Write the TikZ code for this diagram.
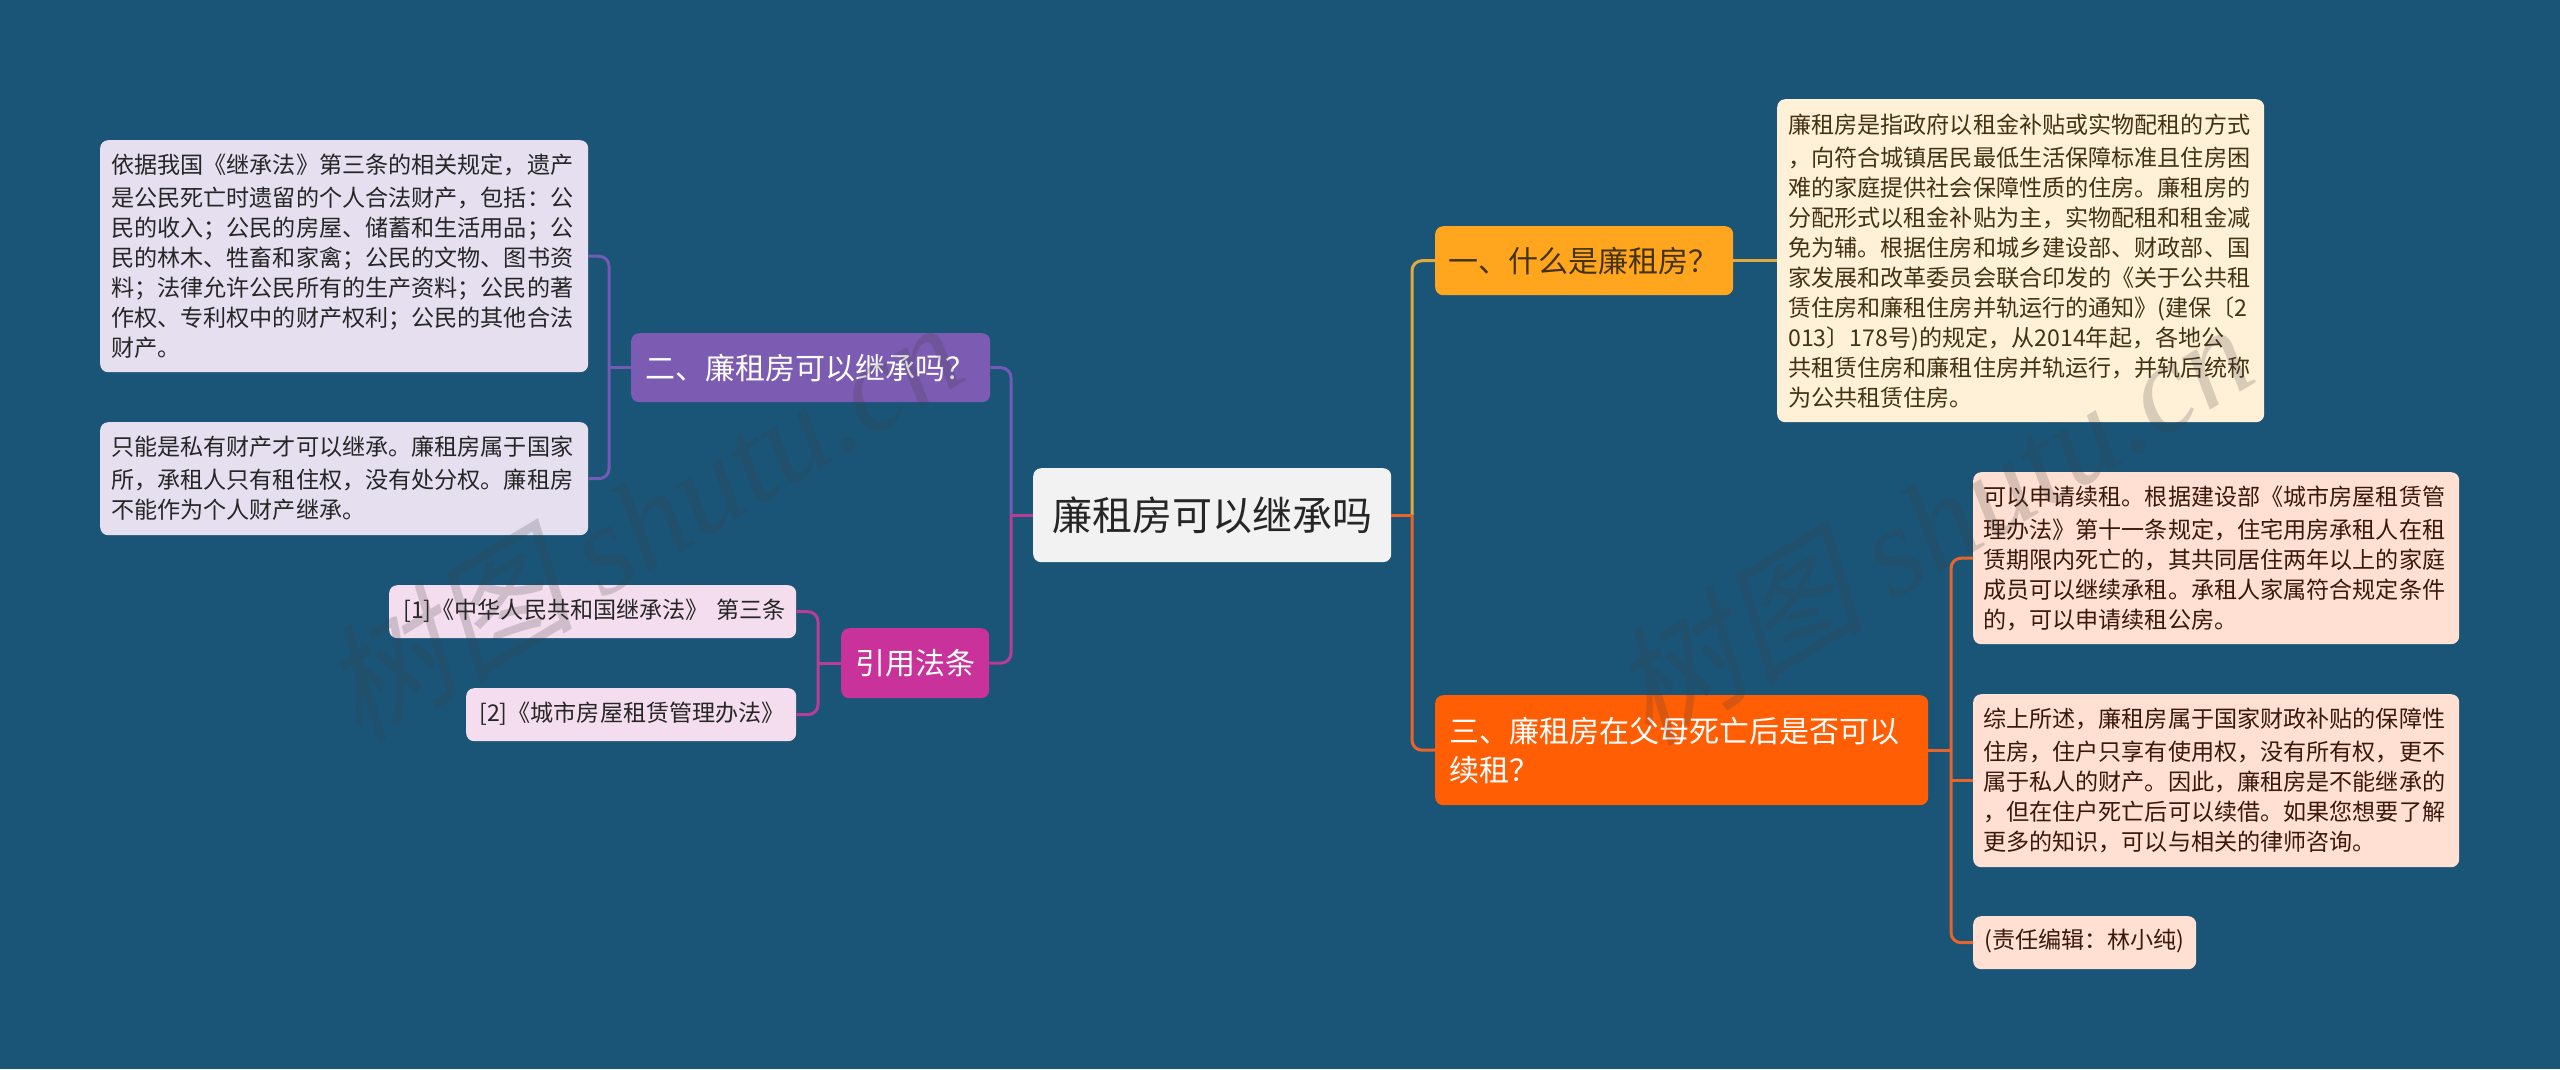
\documentclass[tikz,border=0pt]{standalone}
\usepackage{fontspec}
\setmainfont{Noto Sans CJK SC}
\newfontfamily\wmcjk[FakeSlant=0.25]{Noto Sans CJK SC}
\newfontfamily\wmlat{Liberation Serif}
\usetikzlibrary{calc}
\definecolor{bgc}{RGB}{26,85,120}
\definecolor{purp}{RGB}{124,91,178}
\definecolor{purpl}{RGB}{229,223,240}
\definecolor{magn}{RGB}{201,50,155}
\definecolor{magnl}{RGB}{244,221,238}
\definecolor{ambr}{RGB}{255,165,30}
\definecolor{ambrl}{RGB}{255,240,216}
\definecolor{ambrd}{RGB}{226,170,60}
\definecolor{orng}{RGB}{255,94,5}
\definecolor{orngl}{RGB}{255,224,210}
\definecolor{orngd}{RGB}{232,100,40}
\definecolor{purpd}{RGB}{115,90,180}
\definecolor{magnd}{RGB}{185,60,150}
\definecolor{cent}{RGB}{242,242,242}
\definecolor{wmgray}{RGB}{60,60,60}
\tikzset{
  x=1pt,y=-1pt,
  card/.style={rounded corners=8pt,anchor=north west,inner sep=0pt,align=left},
  leaf/.style={card,font=\fontsize{23.1pt}{30pt}\selectfont,execute at begin node={\vspace*{3pt}}},
  big/.style={card,font=\fontsize{30pt}{39pt}\selectfont},
  conn/.style={line width=3pt,rounded corners=10pt},
  wm/.style={rotate=31,text opacity=0.2,text=wmgray,inner sep=0pt,font=\fontsize{128pt}{130pt}\selectfont},
}
\newcommand{\wmtext}{{\wmcjk 树图}\ {\wmlat\itshape shutu.cn}}
\begin{document}
\begin{tikzpicture}
\useasboundingbox (0,0) rectangle (2560,1069);
\fill[bgc] (0,0) rectangle (2560,1069);
% spines
\coordinate (sL) at (1011,0);
\coordinate (sR) at (1412,0);
\coordinate (s2) at (609,0);
\coordinate (s3) at (818,0);
\coordinate (s4) at (1951,0);
% nodes
\node[card,font=\fontsize{40pt}{48pt}\selectfont,fill=cent,text=black!85,minimum width=358pt,minimum height=94pt,align=center] (root) at (1033,468) {廉租房可以继承吗};
\node[big,fill=purp,text=white,minimum width=359pt,minimum height=69pt,text width=331pt] (n2) at (631,333) {二、廉租房可以继承吗？};
\node[big,fill=magn,text=white,minimum width=148pt,minimum height=70pt,align=center] (n4) at (841,628) {引用法条};
\node[big,fill=ambr,text=ambrd!30!black,minimum width=298pt,minimum height=69pt,text width=272pt] (n1) at (1435,226) {一、什么是廉租房？};
\node[big,fill=orng,text=white,minimum width=493pt,minimum height=110pt,text width=465pt] (n3) at (1435,695) {三、廉租房在父母死亡后是否可以\\续租？};
\node[leaf,fill=purpl,text=black!85,minimum width=488pt,minimum height=232pt,text width=466pt] (a1) at (100,140) {依据我国《继承法》第三条的相关规定，遗产\\是公民死亡时遗留的个人合法财产，包括：公\\民的收入；公民的房屋、储蓄和生活用品；公\\民的林木、牲畜和家禽；公民的文物、图书资\\料；法律允许公民所有的生产资料；公民的著\\作权、专利权中的财产权利；公民的其他合法\\财产。};
\node[leaf,fill=purpl,text=black!85,minimum width=488pt,minimum height=113pt,text width=466pt] (a2) at (100,422) {只能是私有财产才可以继承。廉租房属于国家\\所，承租人只有租住权，没有处分权。廉租房\\不能作为个人财产继承。};
\node[leaf,fill=magnl,text=black!85,minimum width=407pt,minimum height=53pt,text width=379pt] (r1) at (389,585) {\mbox{[1]《中华人民共和国继承法》 第三条}};
\node[leaf,fill=magnl,text=black!85,minimum width=330pt,minimum height=53pt,text width=304pt] (r2) at (466,688) {\mbox{[2]《城市房屋租赁管理办法》}};
\node[leaf,fill=ambrl,text=ambrd!30!black,minimum width=487pt,minimum height=323pt,text width=465pt] (b1) at (1777,99) {廉租房是指政府以租金补贴或实物配租的方式\\，向符合城镇居民最低生活保障标准且住房困\\难的家庭提供社会保障性质的住房。廉租房的\\分配形式以租金补贴为主，实物配租和租金减\\免为辅。根据住房和城乡建设部、财政部、国\\家发展和改革委员会联合印发的《关于公共租\\赁住房和廉租住房并轨运行的通知》(建保〔2\\013〕178号)的规定，从2014年起，各地公\\共租赁住房和廉租住房并轨运行，并轨后统称\\为公共租赁住房。};
\node[leaf,fill=orngl,text=orngd!25!black,minimum width=486pt,minimum height=172pt,text width=466pt] (c1) at (1973,472) {可以申请续租。根据建设部《城市房屋租赁管\\理办法》第十一条规定，住宅用房承租人在租\\赁期限内死亡的，其共同居住两年以上的家庭\\成员可以继续承租。承租人家属符合规定条件\\的，可以申请续租公房。};
\node[leaf,fill=orngl,text=orngd!25!black,minimum width=486pt,minimum height=173pt,text width=466pt] (c2) at (1973,694) {综上所述，廉租房属于国家财政补贴的保障性\\住房，住户只享有使用权，没有所有权，更不\\属于私人的财产。因此，廉租房是不能继承的\\，但在住户死亡后可以续借。如果您想要了解\\更多的知识，可以与相关的律师咨询。};
\node[leaf,fill=orngl,text=orngd!25!black,minimum width=223pt,minimum height=53pt,text width=201pt] (c3) at (1973,916) {(责任编辑：林小纯)};
% connectors
\draw[conn,purpd] (root.west -| sL) -- (n2.east -| sL) -- (n2.east);
\draw[conn,magnd] (root.west -| sL) -- (n4.east -| sL) -- (n4.east);
\draw[conn,magnd] (root.west) -- (root.west -| sL);
\draw[conn,ambrd] (root.east -| sR) -- (n1.west -| sR) -- (n1.west);
\draw[conn,orngd] (root.east -| sR) -- (n3.west -| sR) -- (n3.west);
\draw[conn,orngd] (root.east) -- (root.east -| sR);
\draw[conn,ambrd] (n1.east) -- (b1.west);
\draw[conn,purpd] (a1.east) -- (a1.east -| s2) -- (a2.east -| s2) -- (a2.east);
\draw[conn,purpd] (n2.west) -- (n2.west -| s2);
\draw[conn,magnd] (r1.east) -- (r1.east -| s3) -- (r2.east -| s3) -- (r2.east);
\draw[conn,magnd] (n4.west) -- (n4.west -| s3);
\draw[conn,orngd] (c1.west) -- (c1.west -| s4) -- (c3.west -| s4) -- (c3.west);
\draw[conn,orngd] (n3.east) -- (n3.east -| s4);
\draw[conn,orngd] (c2.west -| s4) -- (c2.west);
% watermarks
\node[wm] (w1) at (640,520) {\wmtext};
\node[wm] (w2) at (1930,522) {\wmtext};
\end{tikzpicture}
\end{document}
